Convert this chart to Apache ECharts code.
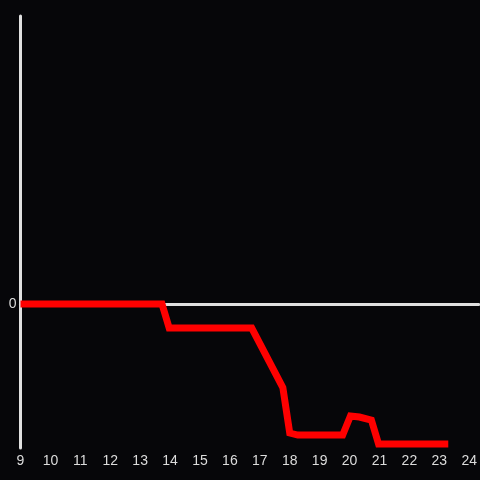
<!DOCTYPE html>
<html>
<head>
<meta charset="utf-8">
<script src="https://cdn.jsdelivr.net/npm/echarts@6/dist/echarts.min.js"></script>
<style>
html,body{margin:0;padding:0;background:#060609;}
#c{width:480px;height:480px;}
</style>
</head>
<body>
<div id="c"></div>
<script>
// x positions (hour) and y values
const xValues = [9, 13.73, 13.97, 16.73, 17.77, 18.0, 18.27, 19.77, 20.03, 20.33, 20.73, 20.97, 23.3];
const yValues = [0, 0, -0.167, -0.167, -0.58, -0.896, -0.91, -0.91, -0.778, -0.785, -0.806, -0.972, -0.972];
const xTicks = [9,10,11,12,13,14,15,16,17,18,19,20,21,22,23,24];
const yTickLabels = ['0'];

const chart = echarts.init(document.getElementById('c'));
const data = xValues.map((x, i) => [x, yValues[i]]);
const labelColor = '#dcdcdc';
chart.setOption({
  backgroundColor: '#060609',
  animation: false,
  grid: {left: 20.5, right: 0, top: 16, bottom: 32, containLabel: false},
  xAxis: [{
    type: 'value', min: 9, max: 24.32, interval: 1,
    axisLine: {show: false, onZero: false},
    axisTick: {show: false},
    splitLine: {show: false},
    axisLabel: {
      color: labelColor, fontSize: 14, margin: 6, fontFamily: 'Liberation Sans, Arial, sans-serif',
      showMaxLabel: false,
      formatter: v => xTicks.indexOf(v) >= 0 ? String(v) : ''
    }
  }, {
    type: 'value', min: 9, max: 24.32, interval: 1, position: 'bottom',
    axisLine: {show: true, onZero: true, lineStyle: {color: '#e0e0e0', width: 3}},
    axisTick: {show: false},
    splitLine: {show: false},
    axisLabel: {show: false}
  }],
  yAxis: {
    type: 'value', min: -1, max: 2, interval: 1,
    axisLine: {show: true, lineStyle: {color: '#e0e0e0', width: 3}},
    axisTick: {show: false},
    splitLine: {show: false},
    axisLabel: {
      color: labelColor, fontSize: 14, margin: 4, fontFamily: 'Liberation Sans, Arial, sans-serif',
      formatter: v => yTickLabels.indexOf(String(v)) >= 0 ? String(v) : ''
    }
  },
  series: [{
    type: 'line',
    xAxisIndex: 0,
    data: data,
    showSymbol: false,
    symbol: 'none',
    lineStyle: {color: '#ff0000', width: 7, join: 'miter'},
    z: 5
  }]
});
</script>
</body>
</html>
